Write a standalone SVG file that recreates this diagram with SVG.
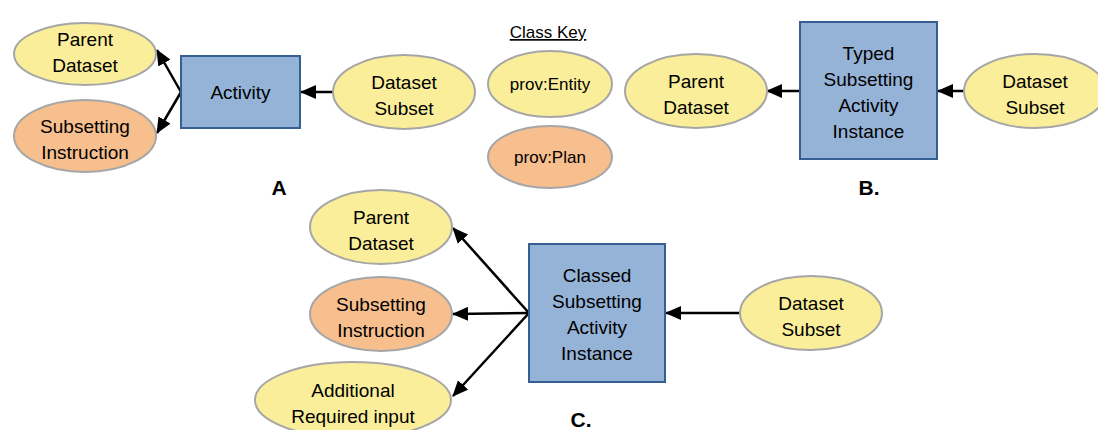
<svg xmlns="http://www.w3.org/2000/svg" width="1098" height="430" viewBox="0 0 1098 430">
<defs>
<style>
.ent{fill:#FAEE9A;stroke:#A6A6A6;stroke-width:2}
.plan{fill:#F7BE8E;stroke:#A6A6A6;stroke-width:2}
.act{fill:#95B3D7;stroke:#365F91;stroke-width:2}
text{font-family:"Liberation Sans",Arial,sans-serif;font-size:19px;fill:#000;text-anchor:middle}
.key{font-size:17px}
.lbl{font-size:21px;font-weight:bold}
.edge{stroke:#000;stroke-width:2.5;fill:none;marker-end:url(#ah)}
</style>
<marker id="ah" markerUnits="userSpaceOnUse" markerWidth="16" markerHeight="14" viewBox="0 0 16 14" refX="15" refY="7" orient="auto">
<path d="M0,0 L16,7 L0,14 Z" fill="#000"/>
</marker>
</defs>
<g id="connectors">
<line class="edge" x1="181" y1="92" x2="157" y2="50"/>
<line class="edge" x1="181" y1="92" x2="157" y2="133"/>
<line class="edge" x1="334" y1="92" x2="301" y2="92"/>
<line class="edge" x1="800" y1="91" x2="767" y2="91"/>
<line class="edge" x1="964" y1="91" x2="938" y2="91"/>
<line class="edge" x1="529" y1="313" x2="453" y2="228"/>
<line class="edge" x1="529" y1="313" x2="453" y2="314"/>
<line class="edge" x1="529" y1="313" x2="453" y2="396"/>
<line class="edge" x1="740" y1="313" x2="666" y2="313"/>
</g>
<g id="a-parent"><ellipse class="ent" cx="85" cy="54" rx="71" ry="31"/><text x="85" y="46">Parent</text><text x="85" y="72">Dataset</text></g>
<g id="a-instr"><ellipse class="plan" cx="85" cy="136" rx="71" ry="36"/><text x="85" y="133">Subsetting</text><text x="85" y="159">Instruction</text></g>
<g id="a-activity"><rect class="act" x="181" y="56" width="119" height="72"/><text x="240.5" y="99">Activity</text></g>
<g id="a-subset"><ellipse class="ent" cx="404" cy="92" rx="71" ry="37"/><text x="404" y="89">Dataset</text><text x="404" y="115">Subset</text></g>
<g id="label-a"><text class="lbl" x="279" y="195">A</text></g>
<g id="class-key"><text class="key" x="548" y="38" text-decoration="underline">Class Key</text></g>
<g id="key-entity"><ellipse class="ent" cx="550" cy="84" rx="62" ry="33"/><text class="key" x="550" y="90">prov:Entity</text></g>
<g id="key-plan"><ellipse class="plan" cx="550" cy="157" rx="62" ry="31"/><text class="key" x="550" y="163">prov:Plan</text></g>
<g id="b-parent"><ellipse class="ent" cx="696" cy="91" rx="71" ry="37"/><text x="696" y="88">Parent</text><text x="696" y="114">Dataset</text></g>
<g id="b-activity"><rect class="act" x="800" y="22" width="137" height="137"/><text x="868.5" y="60">Typed</text><text x="868.5" y="86">Subsetting</text><text x="868.5" y="112">Activity</text><text x="868.5" y="138">Instance</text></g>
<g id="b-subset"><ellipse class="ent" cx="1035" cy="91" rx="71" ry="37"/><text x="1035" y="88">Dataset</text><text x="1035" y="114">Subset</text></g>
<g id="label-b"><text class="lbl" x="869" y="195">B.</text></g>
<g id="c-parent"><ellipse class="ent" cx="381" cy="227" rx="71" ry="37"/><text x="381" y="224">Parent</text><text x="381" y="250">Dataset</text></g>
<g id="c-instr"><ellipse class="plan" cx="381" cy="314" rx="71" ry="37"/><text x="381" y="311">Subsetting</text><text x="381" y="337">Instruction</text></g>
<g id="c-additional"><ellipse class="ent" cx="353" cy="400" rx="98" ry="38"/><text x="353" y="397">Additional</text><text x="353" y="423">Required input</text></g>
<g id="c-activity"><rect class="act" x="529" y="244" width="136" height="138"/><text x="597" y="282">Classed</text><text x="597" y="308">Subsetting</text><text x="597" y="334">Activity</text><text x="597" y="360">Instance</text></g>
<g id="c-subset"><ellipse class="ent" cx="811" cy="313" rx="71" ry="37"/><text x="811" y="310">Dataset</text><text x="811" y="336">Subset</text></g>
<g id="label-c"><text class="lbl" x="581" y="427">C.</text></g>
</svg>
